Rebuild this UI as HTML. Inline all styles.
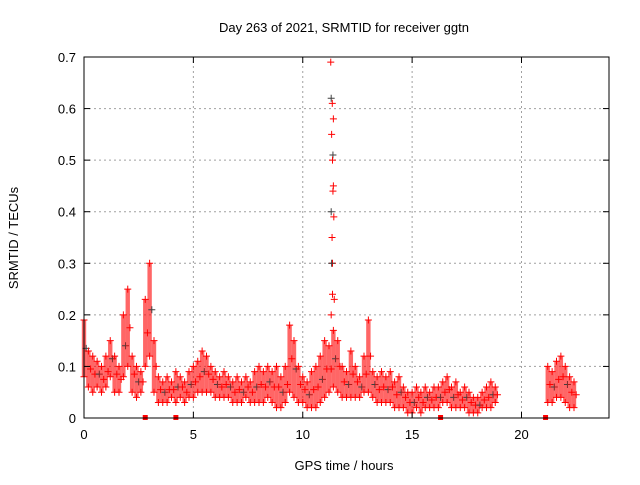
<!DOCTYPE html>
<html><head><meta charset="utf-8"><style>
body{margin:0;background:#fff;}
svg text{font-family:"Liberation Sans",sans-serif;font-size:13px;fill:#000;}
</style></head><body>
<svg id="chart" width="640" height="480" viewBox="0 0 640 480" xmlns="http://www.w3.org/2000/svg">
<rect width="640" height="480" fill="#fff"/>
<text x="344" y="32" text-anchor="middle">Day 263 of 2021, SRMTID for receiver ggtn</text>
<text x="344" y="470" text-anchor="middle">GPS time / hours</text>
<text transform="translate(18,238) rotate(-90)" text-anchor="middle">SRMTID / TECUs</text>
<g id="grid"></g><g id="marks"></g>
<rect x="84" y="57" width="525" height="361" fill="none" stroke="#000" stroke-width="1"/>
<g id="ticks"></g>
</svg>
<script>
const times=[0,0.2,0.4,0.6,0.8,1.0,1.2,1.4,1.6,1.8,2.0,2.2,2.4,2.6,2.8,3.0,3.2,3.4,3.6,3.8,4.0,4.2,4.4,4.6,4.8,5.0,5.2,5.4,5.6,5.8,6.0,6.2,6.4,6.6,6.8,7.0,7.2,7.4,7.6,7.8,8.0,8.2,8.4,8.6,8.8,9.0,9.2,9.4,9.6,9.8,10.0,10.2,10.4,10.6,10.8,11.0,11.2,11.4,11.6,11.8,12.0,12.2,12.4,12.6,12.8,13.0,13.2,13.4,13.6,13.8,14.0,14.2,14.4,14.6,14.8,15.0,15.2,15.4,15.6,15.8,16.0,16.2,16.4,16.6,16.8,17.0,17.2,17.4,17.6,17.8,18.0,18.2,18.4,18.6,18.8,21.2,21.4,21.6,21.8,22.0,22.2,22.4];
const highVals=[0.19,0.13,0.12,0.11,0.10,0.12,0.15,0.12,0.10,0.20,0.25,0.12,0.10,0.09,0.23,0.30,0.15,0.08,0.07,0.08,0.07,0.09,0.08,0.07,0.09,0.10,0.11,0.13,0.12,0.10,0.09,0.08,0.09,0.08,0.07,0.08,0.07,0.08,0.07,0.09,0.10,0.09,0.10,0.09,0.10,0.08,0.10,0.18,0.15,0.10,0.08,0.07,0.09,0.10,0.12,0.15,0.14,0.17,0.15,0.10,0.09,0.13,0.10,0.08,0.12,0.19,0.09,0.08,0.09,0.08,0.09,0.07,0.08,0.06,0.05,0.05,0.06,0.05,0.06,0.05,0.06,0.06,0.07,0.08,0.06,0.07,0.05,0.06,0.05,0.04,0.04,0.05,0.06,0.07,0.06,0.10,0.09,0.11,0.12,0.10,0.08,0.07];
const lowVals=[0.08,0.06,0.05,0.06,0.05,0.06,0.08,0.05,0.05,0.08,0.10,0.05,0.04,0.05,0.10,0.12,0.05,0.03,0.03,0.03,0.04,0.03,0.04,0.03,0.04,0.04,0.05,0.05,0.05,0.05,0.04,0.04,0.04,0.04,0.03,0.03,0.03,0.04,0.03,0.03,0.03,0.03,0.04,0.03,0.02,0.02,0.03,0.05,0.04,0.03,0.03,0.02,0.02,0.02,0.03,0.04,0.05,0.06,0.05,0.04,0.04,0.04,0.04,0.04,0.05,0.05,0.04,0.03,0.03,0.03,0.03,0.02,0.02,0.02,0.01,0.01,0.02,0.01,0.02,0.02,0.02,0.02,0.03,0.03,0.02,0.02,0.02,0.02,0.01,0.01,0.01,0.02,0.02,0.02,0.03,0.03,0.03,0.04,0.04,0.03,0.02,0.02];
const spikeTimes=[11.28,11.3,11.35,11.4,11.32,11.38,11.36,11.4,11.38,11.3,11.42,11.34,11.36,11.32,11.36,11.44,11.3];
const spikeVals=[0.69,0.62,0.61,0.58,0.55,0.51,0.50,0.45,0.44,0.40,0.39,0.35,0.30,0.30,0.24,0.23,0.20];
const zeroTimes=[2.8,4.2,16.3,21.1];
const xTicks=[0,5,10,15,20];
const yTicks=[0,0.1,0.2,0.3,0.4,0.5,0.6,0.7];
const yTickLabels=["0","0.1","0.2","0.3","0.4","0.5","0.6","0.7"];

const NS="http://www.w3.org/2000/svg";
const X0=84,X1=609,Y0=418,Y1=57;
const xs=t=>X0+t/24*(X1-X0);
const ys=v=>Y0-v/0.7*(Y0-Y1);
function mk(tag,attrs,parent){const e=document.createElementNS(NS,tag);for(const k in attrs)e.setAttribute(k,attrs[k]);parent.appendChild(e);return e;}
const grid=document.getElementById('grid'),marks=document.getElementById('marks'),ticks=document.getElementById('ticks');
xTicks.forEach(t=>{const x=xs(t);
 if(t>0){const g=mk('line',{x1:x,x2:x,y1:Y0,y2:Y1,stroke:'#a0a0a0','stroke-dasharray':'2,3'},grid);
 
 }
 mk('line',{x1:x,x2:x,y1:Y0,y2:Y0-6,stroke:'#000'},ticks);
 mk('line',{x1:x,x2:x,y1:Y1,y2:Y1+6,stroke:'#000'},ticks);
 const l=mk('text',{x:x,y:Y0+21,'text-anchor':'middle'},ticks);l.textContent=t;
 
 
});
yTicks.forEach((v,i)=>{const y=ys(v);
 if(v>0&&v<0.7){const g=mk('line',{x1:X0,x2:X1,y1:y,y2:y,stroke:'#a0a0a0','stroke-dasharray':'2,3'},grid);
 
 }
 mk('line',{x1:X0,x2:X0+6,y1:y,y2:y,stroke:'#000'},ticks);
 mk('line',{x1:X1,x2:X1-6,y1:y,y2:y,stroke:'#000'},ticks);
 const l=mk('text',{x:X0-8,y:y+5,'text-anchor':'end'},ticks);l.textContent=yTickLabels[i];
 
 
});
function plus(t,v,col){const x=xs(t),y=ys(v);
 const p=mk('path',{d:`M${x-3.5},${y}h7M${x},${y-3.5}v7`,stroke:col,'stroke-width':1,fill:'none'},marks);
 
 }
const bw=xs(0.2)-xs(0);
times.forEach((t,i)=>{
 const b=mk('rect',{x:xs(t)-bw/2,y:ys(highVals[i]),width:bw,height:Math.max(1,ys(lowVals[i])-ys(highVals[i])),fill:'#ff0000','fill-opacity':0.6},marks);
 
 
 plus(t,highVals[i],'#ff0000');plus(t,lowVals[i],'#ff0000');
 plus(t+0.1,(highVals[i]+lowVals[i])/2,i%3==0?'#404040':'#ff0000');
});
spikeTimes.forEach((t,i)=>plus(t,spikeVals[i],i%4==1?'#404040':'#ff0000'));
zeroTimes.forEach(t=>{const r=mk('rect',{x:xs(t)-2.5,y:Y0-3,width:5,height:5,fill:'#ff0000'},marks);
 
 });
</script>
</body></html>
